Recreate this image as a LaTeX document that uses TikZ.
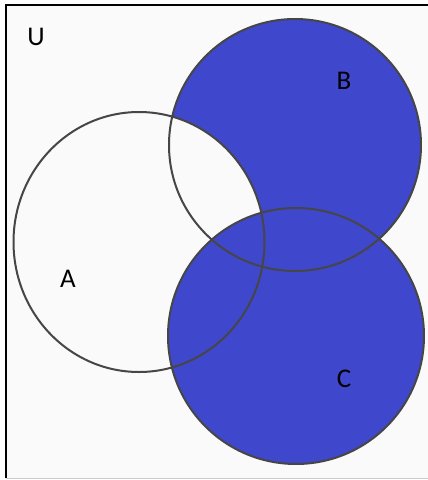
\documentclass[tikz,border=0pt]{standalone}
\usepackage{fontspec}
\setmainfont{Carlito}
\usepackage{xcolor}
\definecolor{setblue}{RGB}{63,72,204}
\definecolor{paper}{RGB}{250,250,250}
\definecolor{rim}{RGB}{70,70,70}

\begin{document}
\begin{tikzpicture}[x=1pt,y=-1pt,
  setlabel/.style={anchor=base,inner sep=0pt,font=\fontsize{27}{32}\selectfont},
  setrim/.style={draw=rim,line width=2pt}]
\useasboundingbox (0,0) rectangle (428,480);
\fill[paper] (6,5) rectangle (428,478);
\coordinate (cA) at (139,242);
\coordinate (cB) at (295,145);
\coordinate (cC) at (296,336);
% B without A, then all of C
\fill[setblue] (cB) circle[radius=126];
\begin{scope}
  \clip (cA) ellipse[x radius=125.5,y radius=130];
  \fill[paper] (cB) circle[radius=126];
\end{scope}
\fill[setblue] (cC) circle[radius=128];
\draw[setrim] (cA) ellipse[x radius=125.5,y radius=130];
\draw[setrim] (cB) circle[radius=126];
\draw[setrim] (cC) circle[radius=128];
% frame
\draw[line width=2pt] (6,478) -- (6,5) -- (428,5);
\draw[gray!40,line width=1.5pt] (6,478.5) -- (428,478.5);
\node[setlabel] (U) at (36,45) {U};
\node[setlabel] (A) at (68,287) {A};
\node[setlabel] (B) at (344,89) {B};
\node[setlabel] (C) at (344,387) {C};
\end{tikzpicture}
\end{document}
